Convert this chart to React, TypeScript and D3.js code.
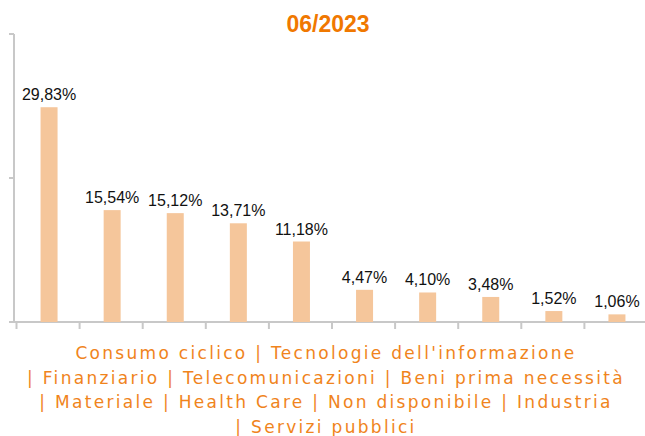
import React from "react";
import * as d3 from "d3";

const title = "06/2023";
const categories = [
  "Consumo ciclico",
  "Tecnologie dell'informazione",
  "Finanziario",
  "Telecomunicazioni",
  "Beni prima necessità",
  "Materiale",
  "Health Care",
  "Non disponibile",
  "Industria",
  "Servizi pubblici",
];
const values = [29.83, 15.54, 15.12, 13.71, 11.18, 4.47, 4.1, 3.48, 1.52, 1.06];
const yTicks = [0, 20, 40];
const legendBreaks = [2, 5, 9];

const W = 645;
const H = 436;

export default function App() {
  const x = d3.scaleBand<number>().domain(d3.range(categories.length)).range([16.5, 647.5]).padding(0);
  const y = d3.scaleLinear().domain([0, 40]).range([322, 34]);
  const barW = 17;
  const fmt = (v: number) => v.toFixed(2).replace(".", ",") + "%";

  const lines: string[] = [];
  let start = 0;
  [...legendBreaks, categories.length].forEach((b, li) => {
    const part = categories.slice(start, b).join(" | ");
    lines.push(li === 0 ? part : "| " + part);
    start = b;
  });

  const axisColor = "#c8c8c8";
  return (
    <svg width={W} height={H} style={{ position: "absolute", left: 0, top: 0 }}>
      <rect width={W} height={H} fill="#fff" />
      <text x={328} y={32} textAnchor="middle" fill="#f07800" fontFamily="Liberation Sans, Arial, sans-serif" fontWeight="bold" fontSize={23}>
        {title}
      </text>
      <line x1={14} x2={14} y1={y(40)} y2={y(0)} stroke={axisColor} strokeWidth={2} />
      {yTicks.map((t) => (
        <line key={t} x1={9} x2={14} y1={y(t)} y2={y(t)} stroke={axisColor} strokeWidth={2} />
      ))}
      <line x1={13} x2={W} y1={y(0)} y2={y(0)} stroke={axisColor} strokeWidth={2} />
      {categories.map((c, i) => (
        <line key={c} x1={x(i)!} x2={x(i)!} y1={y(0)} y2={y(0) + 7} stroke={axisColor} strokeWidth={2} />
      ))}
      {values.map((v, i) => {
        const cx = x(i)! + x.bandwidth() / 2 + 1;
        return (
          <g key={i}>
            <rect x={cx - barW / 2} y={y(v)} width={barW} height={y(0) - y(v)} fill="#f5c69b" />
            <text x={cx} y={y(v) - 7} textAnchor="middle" fontFamily="Liberation Sans, Arial, sans-serif" fontSize={16} fill="#111">
              {fmt(v)}
            </text>
          </g>
        );
      })}
      {lines.map((l, i) => (
        <text key={i} x={326} y={359 + i * 24.5} textAnchor="middle" fill="#f0841c" fontFamily="DejaVu Sans, Verdana, sans-serif" fontSize={17} letterSpacing={2.3}>
          {l}
        </text>
      ))}
    </svg>
  );
}
